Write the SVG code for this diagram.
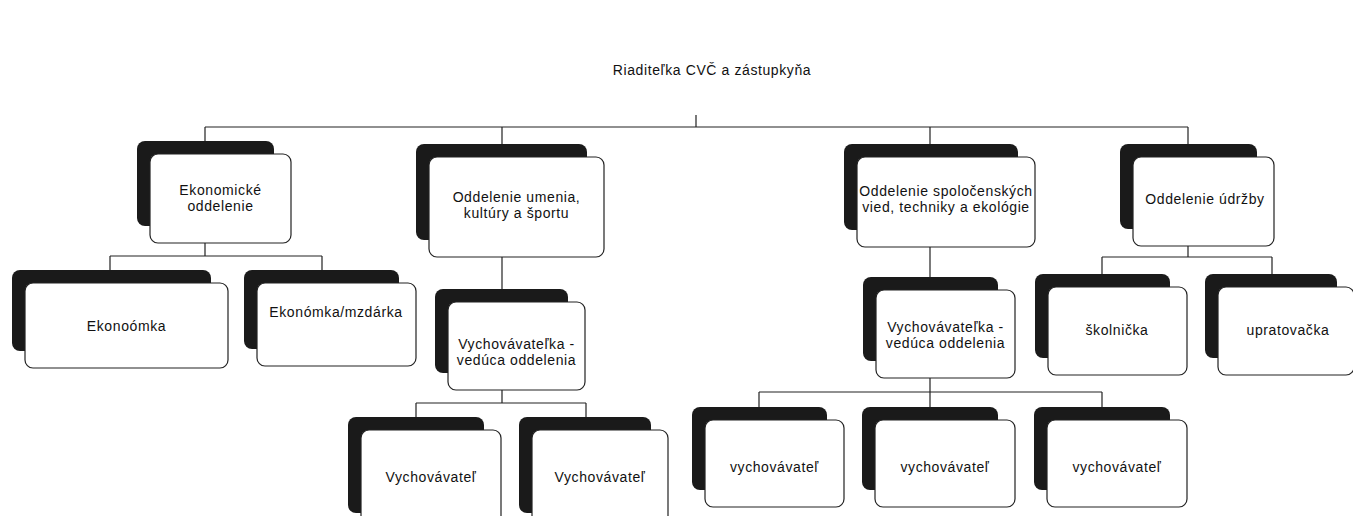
<svg xmlns="http://www.w3.org/2000/svg" width="1353" height="516" viewBox="0 0 1353 516">
<style>
.sh{fill:#1a1a1a;}
.bx{fill:#fff;stroke:#222;stroke-width:1.2;}
.t{font-family:"Liberation Sans","Noto Sans",sans-serif;font-size:14px;letter-spacing:0.6px;fill:#111;text-anchor:middle;}
.c{fill:none;stroke:#222;stroke-width:1.2;}
</style>
<rect width="1353" height="516" fill="#fff"/>
<g id="connectors">
<path class="c" d="M696,115V127M205,127H1188M205,127V141M502,127V144M930,127V144M1188,127V144"/>
<path class="c" d="M205,243V256M110,256H322M110,256V270M322,256V270"/>
<path class="c" d="M502,257V289"/>
<path class="c" d="M502,390V403M416,403H586M416,403V417M586,403V417"/>
<path class="c" d="M930,247V277"/>
<path class="c" d="M930,378V392M759,392H1102M759,392V407M930,392V407M1102,392V407"/>
<path class="c" d="M1188,246V257M1102,257H1272M1102,257V274M1272,257V274"/>
</g>
<g id="root">
<text class="t" x="712" y="75">Riaditeľka CVČ a zástupkyňa</text>
</g>
<g id="n-ekonomicke">
<rect class="sh" x="137" y="141" width="137" height="85" rx="8"/>
<rect class="bx" x="150" y="154" width="141" height="89" rx="8"/>
<text class="t" x="220.5" y="195"><tspan x="220.5">Ekonomické</tspan><tspan x="220.5" dy="16">oddelenie</tspan></text>
</g>
<g id="n-umenie">
<rect class="sh" x="416" y="144" width="171" height="96" rx="8"/>
<rect class="bx" x="429" y="157" width="175" height="100" rx="8"/>
<text class="t" x="516.5" y="202"><tspan x="516.5">Oddelenie umenia,</tspan><tspan x="516.5" dy="16">kultúry a športu</tspan></text>
</g>
<g id="n-spolocenske">
<rect class="sh" x="844" y="144" width="174" height="86" rx="8"/>
<rect class="bx" x="857" y="157" width="178" height="90" rx="8"/>
<text class="t" x="946" y="196"><tspan x="946">Oddelenie spoločenských</tspan><tspan x="946" dy="16">vied, techniky a ekológie</tspan></text>
</g>
<g id="n-udrzby">
<rect class="sh" x="1120" y="144" width="137" height="85" rx="8"/>
<rect class="bx" x="1133" y="157" width="141" height="89" rx="8"/>
<text class="t" x="1205" y="204">Oddelenie údržby</text>
</g>
<g id="n-ekonoomka">
<rect class="sh" x="12" y="270" width="199" height="81" rx="8"/>
<rect class="bx" x="25" y="283" width="203" height="85" rx="8"/>
<text class="t" x="126.5" y="331">Ekonoómka</text>
</g>
<g id="n-mzdarka">
<rect class="sh" x="244" y="270" width="155" height="79" rx="8"/>
<rect class="bx" x="257" y="283" width="159" height="83" rx="8"/>
<text class="t" x="336" y="317">Ekonómka/mzdárka</text>
</g>
<g id="n-veduca1">
<rect class="sh" x="435" y="289" width="133" height="84" rx="8"/>
<rect class="bx" x="448" y="302" width="137" height="88" rx="8"/>
<text class="t" x="516.5" y="349"><tspan x="516.5">Vychovávateľka -</tspan><tspan x="516.5" dy="16">vedúca oddelenia</tspan></text>
</g>
<g id="n-veduca2">
<rect class="sh" x="863" y="277" width="135" height="84" rx="8"/>
<rect class="bx" x="876" y="290" width="139" height="88" rx="8"/>
<text class="t" x="945.5" y="332"><tspan x="945.5">Vychovávateľka -</tspan><tspan x="945.5" dy="16">vedúca oddelenia</tspan></text>
</g>
<g id="n-vych1">
<rect class="sh" x="348" y="417" width="136" height="96" rx="8"/>
<rect class="bx" x="361" y="430" width="140" height="100" rx="8"/>
<text class="t" x="431" y="482">Vychovávateľ</text>
</g>
<g id="n-vych2">
<rect class="sh" x="519" y="417" width="132" height="96" rx="8"/>
<rect class="bx" x="532" y="430" width="136" height="100" rx="8"/>
<text class="t" x="600" y="482">Vychovávateľ</text>
</g>
<g id="n-vych-a">
<rect class="sh" x="692" y="407" width="135" height="83" rx="8"/>
<rect class="bx" x="705" y="420" width="139" height="87" rx="8"/>
<text class="t" x="774.5" y="472">vychovávateľ</text>
</g>
<g id="n-vych-b">
<rect class="sh" x="862" y="407" width="136" height="83" rx="8"/>
<rect class="bx" x="875" y="420" width="140" height="87" rx="8"/>
<text class="t" x="945" y="472">vychovávateľ</text>
</g>
<g id="n-vych-c">
<rect class="sh" x="1034" y="407" width="136" height="83" rx="8"/>
<rect class="bx" x="1047" y="420" width="140" height="87" rx="8"/>
<text class="t" x="1117" y="472">vychovávateľ</text>
</g>
<g id="n-skolnicka">
<rect class="sh" x="1035" y="274" width="135" height="84" rx="8"/>
<rect class="bx" x="1048" y="287" width="139" height="88" rx="8"/>
<text class="t" x="1117" y="335">školnička</text>
</g>
<g id="n-upratovacka">
<rect class="sh" x="1205" y="274" width="132" height="84" rx="8"/>
<rect class="bx" x="1218" y="287" width="136" height="88" rx="8"/>
<text class="t" x="1288" y="335">upratovačka</text>
</g>
</svg>
